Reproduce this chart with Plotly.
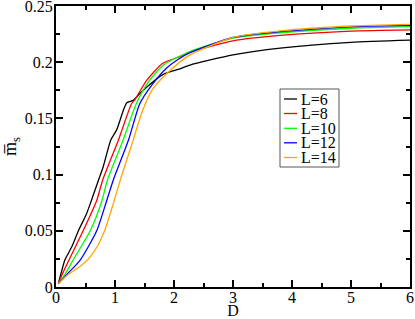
import plotly.graph_objects as go

labels = ["L=6", "L=8", "L=10", "L=12", "L=14"]
colors = ["#000000", "#ff0000", "#00ff00", "#0000ff", "#ffa500"]

d_L6 = [0.04, 0.1, 0.15, 0.27, 0.38, 0.52, 0.6, 0.72, 0.8, 0.93, 1.03, 1.14, 1.2, 1.31, 1.4, 1.54, 1.81, 2.1, 2.27, 3.0, 3.8, 5.0, 6.0]
m_L6 = [0.003, 0.015, 0.024, 0.036, 0.05, 0.0655, 0.077, 0.095, 0.107, 0.131, 0.14, 0.157, 0.164, 0.166, 0.171, 0.178, 0.189, 0.194, 0.1975, 0.2065, 0.2126, 0.2177, 0.2197]

d_L8 = [0.04, 0.12, 0.22, 0.46, 0.69, 0.79, 1.06, 1.12, 1.28, 1.34, 1.54, 1.81, 2.1, 2.27, 3.0, 3.8, 5.0, 6.0]
m_L8 = [0.003, 0.013, 0.024, 0.05, 0.077, 0.095, 0.131, 0.14, 0.163, 0.167, 0.184, 0.199, 0.205, 0.209, 0.219, 0.2238, 0.2276, 0.2287]

d_L10 = [0.04, 0.15, 0.29, 0.58, 0.78, 0.87, 1.14, 1.2, 1.36, 1.56, 1.82, 2.1, 2.27, 3.0, 3.8, 5.0, 6.0]
m_L10 = [0.003, 0.011, 0.024, 0.05, 0.077, 0.095, 0.131, 0.14, 0.163, 0.182, 0.1975, 0.2055, 0.2095, 0.2215, 0.2262, 0.2302, 0.2316]

d_L12 = [0.04, 0.2, 0.41, 0.69, 0.86, 0.97, 1.23, 1.42, 1.63, 1.88, 2.1, 2.27, 3.0, 3.8, 5.0, 6.0]
m_L12 = [0.003, 0.012, 0.024, 0.05, 0.077, 0.095, 0.131, 0.163, 0.18, 0.195, 0.2035, 0.2085, 0.222, 0.2272, 0.2315, 0.2328]

d_L14 = [0.04, 0.2, 0.4, 0.55, 0.7, 0.83, 0.97, 1.1, 1.31, 1.46, 1.64, 1.9, 2.27, 3.0, 3.8, 5.0, 6.0]
m_L14 = [0.003, 0.011, 0.018, 0.025, 0.036, 0.051, 0.074, 0.097, 0.131, 0.156, 0.176, 0.191, 0.2065, 0.222, 0.2278, 0.2322, 0.2337]

xs = [d_L6, d_L8, d_L10, d_L12, d_L14]
ys = [m_L6, m_L8, m_L10, m_L12, m_L14]

x_ticks = [0, 1, 2, 3, 4, 5, 6]
y_ticks = [0, 0.05, 0.1, 0.15, 0.2, 0.25]
y_ticktext = ["0", "0.05", "0.1", "0.15", "0.2", "0.25"]

fig = go.Figure()
for lab, col, x, y in zip(labels, colors, xs, ys):
    fig.add_trace(go.Scatter(x=x, y=y, mode="lines", name=lab, showlegend=False,
                             line=dict(color=col, width=1.3, shape="spline", smoothing=0.6)))

FAM = "Liberation Serif"
font = dict(family=FAM, size=16, color="black")
axis_common = dict(showline=True, linecolor="black", linewidth=2, mirror="allticks",
                   ticks="inside", ticklen=7, tickwidth=1.5, tickcolor="black",
                   showgrid=False, zeroline=False, automargin=False,
                   ticklabeloverflow="allow",
                   minor=dict(ticks="inside", ticklen=4, tickwidth=1.5, tickcolor="black", showgrid=False),
                   tickfont=font)

fig.update_xaxes(range=[0, 6], tickvals=x_ticks, ticktext=[str(v) for v in x_ticks],
                 minor_dtick=0.5, minor_tick0=0, ticklabelstandoff=-5,
                 title=dict(text="D", font=font, standoff=0), **axis_common)
fig.update_yaxes(range=[0, 0.25], tickvals=y_ticks, ticktext=y_ticktext,
                 minor_dtick=0.025, minor_tick0=0, ticklabelstandoff=-2,
                 title=dict(text="m\u0305<sub>s</sub>", font=dict(family=FAM, size=18, color="black"), standoff=4),
                 **axis_common)

# legend box drawn in paper coordinates
x0_box, x1_box = (280 - 56) / 354, (339 - 56) / 354
y_top, y_bot = (287 - 89) / 281, (287 - 167) / 281
fig.add_shape(type="rect", xref="paper", yref="paper", x0=x0_box, x1=x1_box, y0=y_bot, y1=y_top,
              line=dict(color="#555555", width=1), fillcolor="white", layer="above")
row_y = [99, 113.5, 128.3, 142.8, 157.5]
for lab, col, py in zip(labels, colors, row_y):
    yp = (287 - py) / 281
    fig.add_shape(type="line", xref="paper", yref="paper",
                  x0=(284 - 56) / 354, x1=(297 - 56) / 354, y0=yp, y1=yp,
                  line=dict(color=col, width=1.3), layer="above")
    fig.add_annotation(text=lab, xref="paper", yref="paper", x=(299 - 56) / 354, y=yp,
                       xanchor="left", yanchor="middle", showarrow=False,
                       font=dict(family=FAM, size=16, color="black"))

fig.update_layout(
    width=415, height=319,
    margin=dict(l=56, r=5, t=6, b=32),
    paper_bgcolor="white", plot_bgcolor="white",
    font=font,
    showlegend=False,
)

fig.write_html("out.html", config={"displayModeBar": False},
               post_script="document.body.style.margin='0';document.body.style.padding='0';")
